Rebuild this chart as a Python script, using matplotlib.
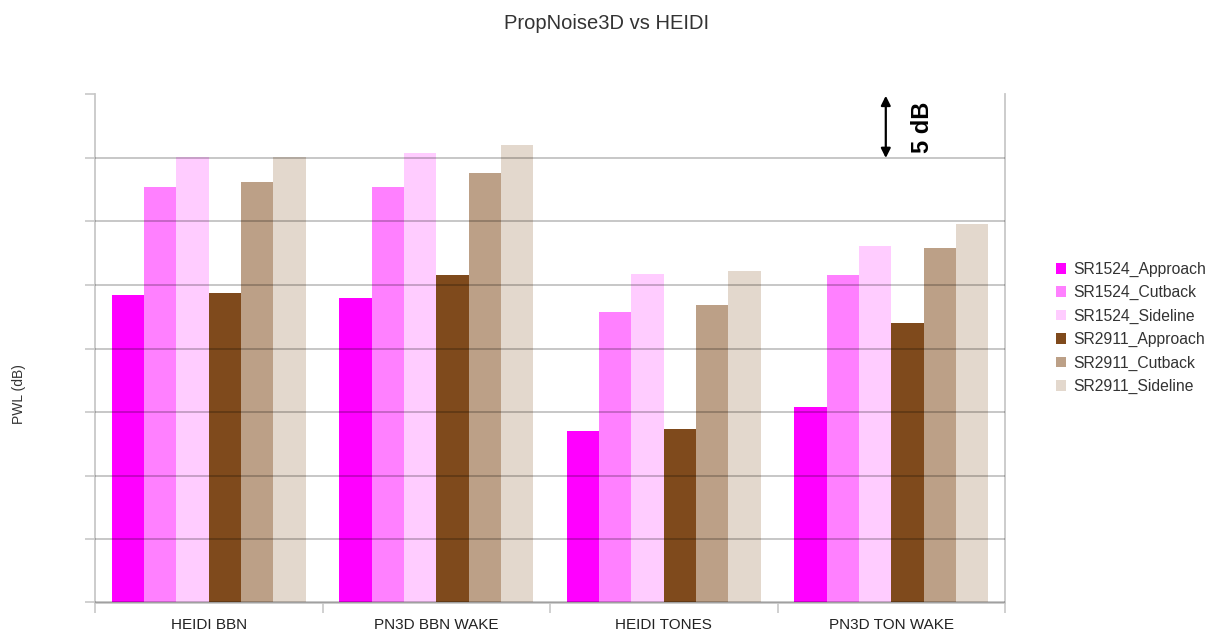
import numpy as np
import matplotlib
matplotlib.use("Agg")
import matplotlib.pyplot as plt
from matplotlib.transforms import blended_transform_factory

plt.rcParams['font.family'] = ['Liberation Sans', 'DejaVu Sans']

# Noise levels per source/case (PWL, dB)
categories = ["HEIDI BBN", "PN3D BBN WAKE", "HEIDI TONES", "PN3D TON WAKE"]
series_names = ["SR1524_Approach", "SR1524_Cutback", "SR1524_Sideline",
                "SR2911_Approach", "SR2911_Cutback", "SR2911_Sideline"]
sr1524_approach = [104.2, 104.0, 93.5, 95.4]
sr1524_cutback = [112.7, 112.7, 102.9, 105.8]
sr1524_sideline = [115.1, 115.4, 105.9, 108.1]
sr2911_approach = [104.4, 105.8, 93.7, 102.0]
sr2911_cutback = [113.1, 113.8, 103.4, 107.9]
sr2911_sideline = [115.1, 116.0, 106.1, 109.8]
series_values = [sr1524_approach, sr1524_cutback, sr1524_sideline,
                 sr2911_approach, sr2911_cutback, sr2911_sideline]
colors = ["#ff00ff", "#ff80ff", "#ffccff", "#7f4a1c", "#bca087", "#e3d8cd"]

y_min, y_max, y_step = 80, 120, 5

fig = plt.figure(figsize=(12.13, 6.30), dpi=100)
ax = fig.add_axes([95 / 1213, 27.5 / 630, 910 / 1213, 508 / 630])

x = np.arange(len(categories))
bar_w = 0.142
n = len(series_names)
for i, (name, vals, c) in enumerate(zip(series_names, series_values, colors)):
    offs = (i - (n - 1) / 2) * bar_w
    ax.bar(x + offs, np.array(vals) - y_min, width=bar_w, bottom=y_min,
           color=c, label=name, zorder=1, linewidth=0)

ax.set_xlim(-0.5, len(categories) - 0.5)
ax.set_ylim(y_min, y_max)

# Horizontal grid drawn over the bars
ax.set_yticks(np.arange(y_min, y_max + 0.1, y_step))
ax.set_yticklabels([])
ax.grid(axis='y', color='black', alpha=0.28, linewidth=1.1, zorder=3)
ax.set_axisbelow(False)
ax.tick_params(axis='y', length=7, color='#c8c8c8', width=1.2)

ax.set_xticks(x)
ax.set_xticklabels(categories, fontsize=11, color='#222222')
ax.tick_params(axis='x', which='major', length=0, pad=11)
ax.set_xticks(np.arange(-0.5, len(categories)), minor=True)
ax.tick_params(axis='x', which='minor', length=7, color='#c8c8c8', width=1.2)

for side in ['left', 'bottom', 'right']:
    ax.spines[side].set_color('#c8c8c8')
    ax.spines[side].set_linewidth(1.3)
ax.spines['top'].set_visible(False)

ax.set_ylabel("PWL (dB)", fontsize=10, color='#333333')
ax.yaxis.set_label_coords((26 - 95) / 910, 0.41)

fig.suptitle("PropNoise3D vs HEIDI", y=0.978, fontsize=14.5, color='#333333')

# 5 dB scale marker
tr = blended_transform_factory(ax.transAxes, ax.transData)
ax.annotate("", xy=(0.869, y_max - 0.1), xytext=(0.869, y_max - y_step),
            xycoords=tr, textcoords=tr,
            arrowprops=dict(arrowstyle='<|-|>', color='black', lw=1.6,
                            mutation_scale=14, shrinkA=0, shrinkB=0))
ax.text(0.909, y_max - y_step / 2 - 0.05, "5 dB", transform=tr, rotation=90,
        fontsize=17, fontweight='bold', ha='center', va='center', color='black')

fig.legend(loc='center left', bbox_to_anchor=(1056 / 1213, 1 - 328 / 630),
           frameon=False, fontsize=11.3, handlelength=0.65, handleheight=0.65,
           handletextpad=0.45, labelspacing=0.53, labelcolor='#333333',
           borderaxespad=0, borderpad=0)

fig.savefig("out.png", dpi=100)
